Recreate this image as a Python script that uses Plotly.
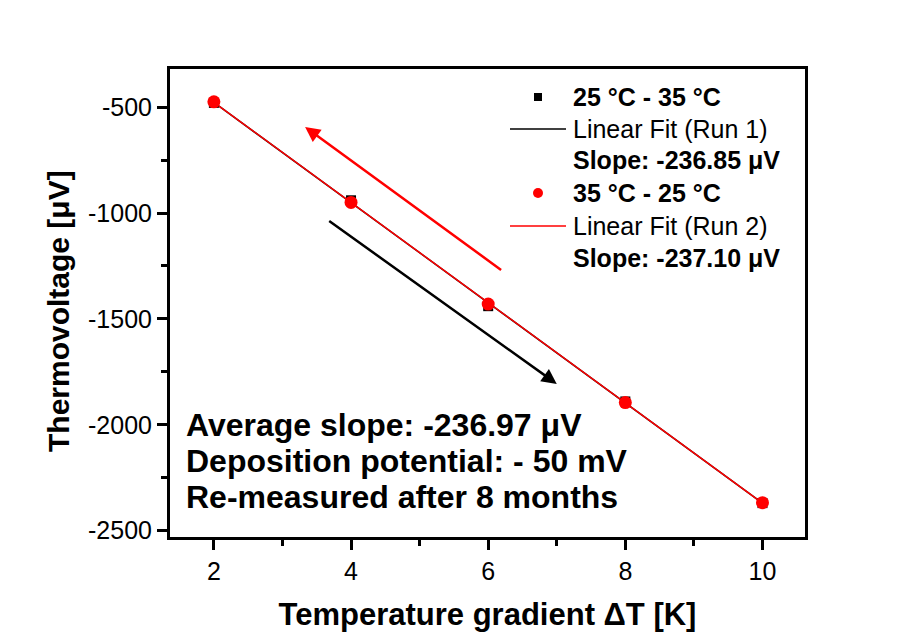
import numpy as np
import plotly.graph_objects as go

dT = [2, 4, 6, 8, 10]
run1 = [-480, -940, -1440, -1890, -2370]
run2 = [-475, -950, -1430, -1895, -2368]

x_ticks = [2, 4, 6, 8, 10]
y_ticks = [-500, -1000, -1500, -2000, -2500]

legend_rows = ["<b>25 °C - 35 °C</b>", "Linear Fit (Run 1)", "<b>Slope: -236.85 μV</b>",
               "<b>35 °C - 25 °C</b>", "Linear Fit (Run 2)", "<b>Slope: -237.10 μV</b>"]
notes = ["Average slope: -236.97 μV", "Deposition potential: - 50 mV", "Re-measured after 8 months"]

# arrows: (tail_x, tail_y, head_x, head_y)
red_arrow = (6.21, -1274, 3.33, -594)
black_arrow = (3.66, -1033, 7.0, -1807)

W, H = 917, 639
L, R, T, B = 170, 805, 69, 537

def px(xp):
    return (xp - L) / (R - L)

def py(yp):
    return (B - yp) / (B - T)

FONT = "Liberation Sans, Arial, sans-serif"

fig = go.Figure()
xs = np.array(dT, dtype=float)
p1 = np.polyfit(xs, run1, 1)
p2 = np.polyfit(xs, run2, 1)
fig.add_trace(go.Scatter(x=xs, y=np.polyval(p1, xs), mode="lines",
                         line=dict(color="black", width=1.5), showlegend=False))
fig.add_trace(go.Scatter(x=xs, y=np.polyval(p2, xs), mode="lines",
                         line=dict(color="red", width=1.5), showlegend=False))
fig.add_trace(go.Scatter(x=dT, y=run1, mode="markers",
                         marker=dict(symbol="square", size=10, color="black"), showlegend=False))
fig.add_trace(go.Scatter(x=dT, y=run2, mode="markers",
                         marker=dict(symbol="circle", size=13, color="red"), showlegend=False))

for (tx, ty, hx, hy), col in [(red_arrow, "red"), (black_arrow, "black")]:
    fig.add_annotation(x=hx, y=hy, ax=tx, ay=ty, xref="x", yref="y", axref="x", ayref="y",
                       showarrow=True, arrowhead=2, arrowsize=1.2, arrowwidth=2.5,
                       arrowcolor=col, text="")

# manual legend
rows_y = [97, 129, 160, 193, 226, 258]
for txt, yy in zip(legend_rows, rows_y):
    fig.add_annotation(x=px(571), y=py(yy), xref="paper", yref="paper", text=txt,
                       showarrow=False, xanchor="left", yanchor="middle",
                       font=dict(family=FONT, size=25, color="black"))
fig.add_shape(type="rect", xref="paper", yref="paper",
              x0=px(534), x1=px(542), y0=py(101), y1=py(93),
              fillcolor="black", line=dict(width=0))
fig.add_shape(type="circle", xref="paper", yref="paper",
              x0=px(533), x1=px(543), y0=py(198), y1=py(188),
              fillcolor="red", line=dict(width=0))
fig.add_shape(type="line", xref="paper", yref="paper",
              x0=px(510), x1=px(566), y0=py(129), y1=py(129),
              line=dict(color="black", width=1.5))
fig.add_shape(type="line", xref="paper", yref="paper",
              x0=px(510), x1=px(566), y0=py(226), y1=py(226),
              line=dict(color="red", width=1.5))

for txt, yy in zip(notes, [425, 461, 497]):
    fig.add_annotation(x=px(184), y=py(yy), xref="paper", yref="paper",
                       text="<b>" + txt + "</b>", showarrow=False,
                       xanchor="left", yanchor="middle",
                       font=dict(family=FONT, size=32, color="black"))

# y-axis title as rotated annotation
fig.add_annotation(x=px(58), y=py(311), xref="paper", yref="paper",
                   text="<b>Thermovoltage [μV]</b>", textangle=-90, showarrow=False,
                   xanchor="center", yanchor="middle",
                   font=dict(family=FONT, size=30, color="black"))

axis_common = dict(showgrid=False, zeroline=False, showline=True, linecolor="black",
                   linewidth=3, mirror=True, ticks="outside", ticklen=10, tickwidth=2.5,
                   tickcolor="black", tickfont=dict(family=FONT, size=25, color="black"))

fig.update_xaxes(range=[1.36, 10.62], tickvals=x_ticks, ticktext=[str(v) for v in x_ticks],
                 minor=dict(dtick=1, tick0=1, ticks="outside", ticklen=6, tickwidth=2.5, tickcolor="black"),
                 title=dict(text="<b>Temperature gradient ΔT [K]</b>", standoff=20,
                            font=dict(family=FONT, size=31, color="black")),
                 **axis_common)
fig.update_yaxes(range=[-2530, -320], tickvals=y_ticks, ticktext=[str(v) for v in y_ticks],
                 minor=dict(dtick=250, tick0=-250, ticks="outside", ticklen=6, tickwidth=2.5, tickcolor="black"),
                 **axis_common)

fig.update_layout(width=W, height=H, margin=dict(l=L, r=W - R, t=T, b=H - B, autoexpand=False),
                  paper_bgcolor="white", plot_bgcolor="white", showlegend=False)

fig.write_html("out.html")
